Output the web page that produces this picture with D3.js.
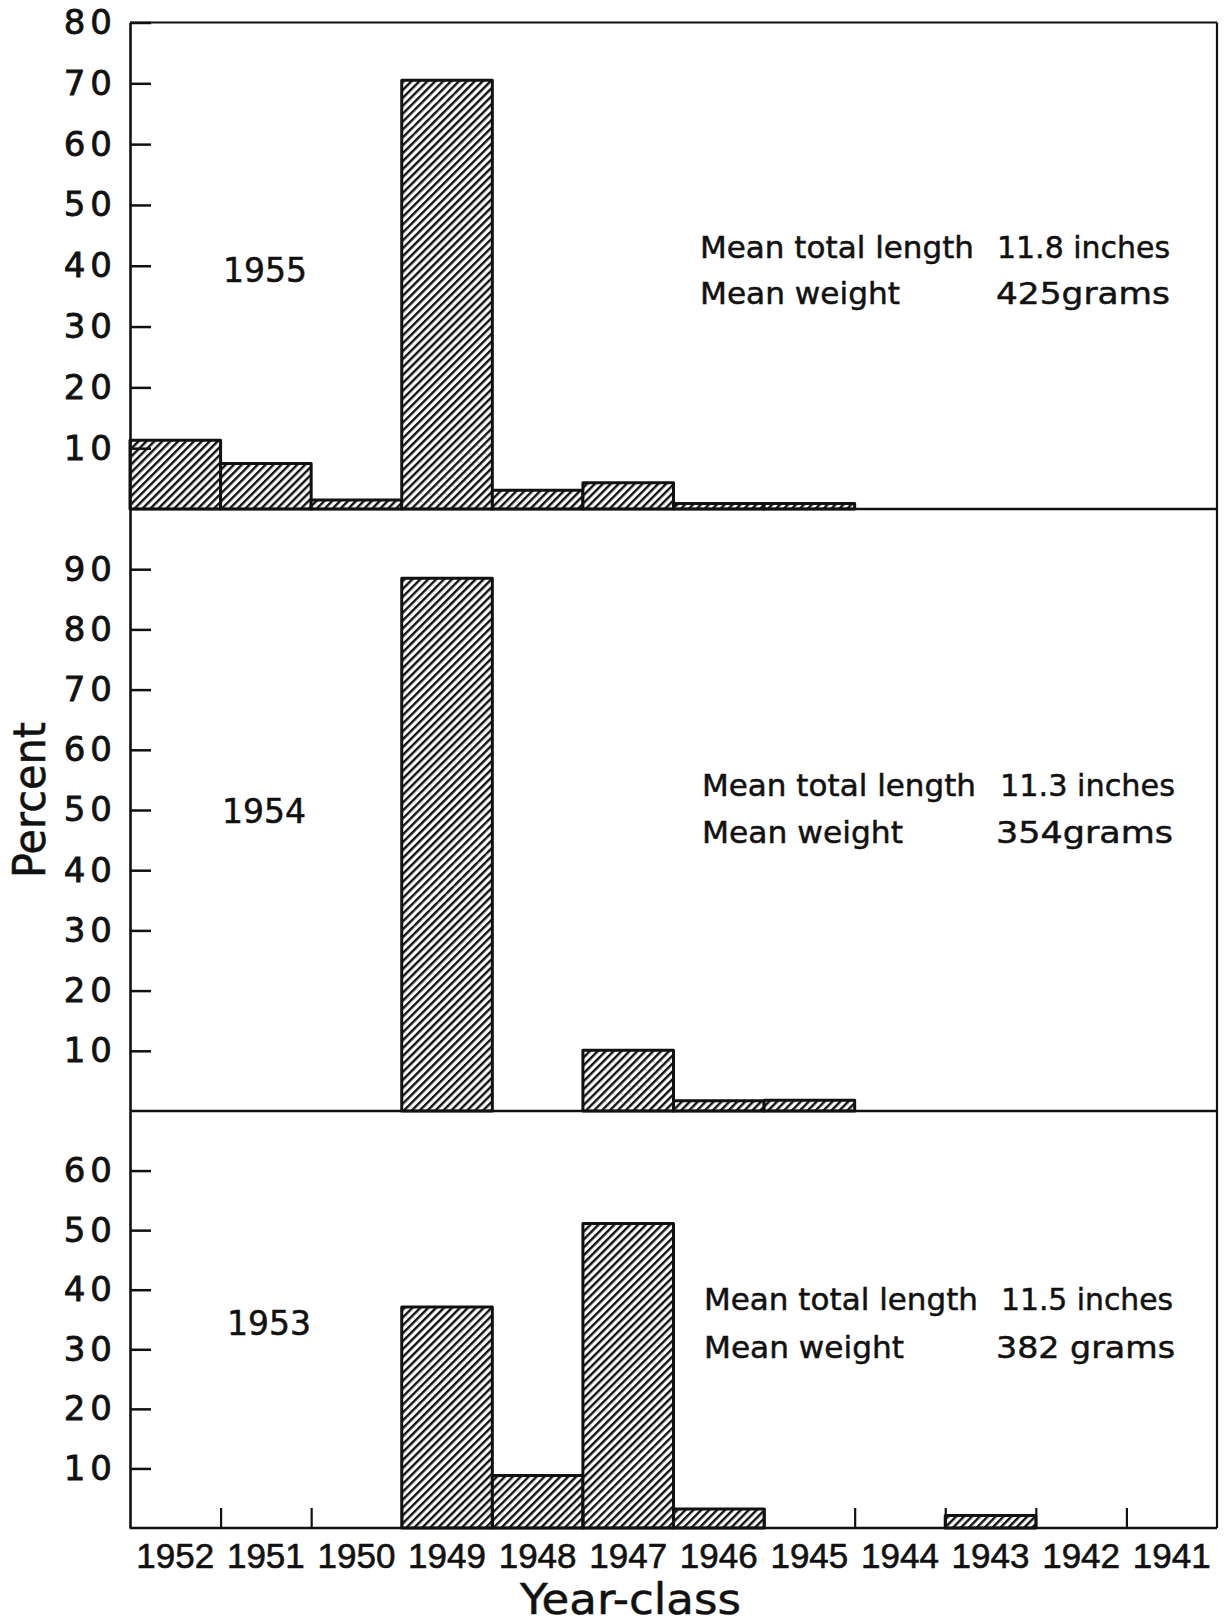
<!DOCTYPE html>
<html><head><meta charset="utf-8">
<script src="https://cdn.jsdelivr.net/npm/d3@7"></script>
<style>
html,body{margin:0;padding:0;background:#fff;}
svg{display:block;}
</style></head>
<body>
<svg id="chart" width="1227" height="1623"></svg>
<script>
// ---------- data ----------
const yearClasses = ["1952","1951","1950","1949","1948","1947","1946","1945","1944","1943","1942","1941"];
const sampleYears = ["1955","1954","1953"];
const pct1955 = [11.3, 7.5, 1.5, 70.5, 3.1, 4.3, 0.9, 0.9, 0, 0, 0, 0];
const pct1954 = [0, 0, 0, 88.5, 0, 10.1, 1.7, 1.8, 0, 0, 0, 0];
const pct1953 = [0, 0, 0, 37.1, 8.8, 51.1, 3.2, 0, 0, 2.1, 0, 0];
const yMax = [80, 100, 70];
const yTicks1955 = [10, 20, 30, 40, 50, 60, 70, 80];
const yTicks1954 = [10, 20, 30, 40, 50, 60, 70, 80, 90];
const yTicks1953 = [10, 20, 30, 40, 50, 60];
const lengthLabel = "Mean total length";
const weightLabel = "Mean weight";
const meanLength = ["11.8 inches", "11.3 inches", "11.5 inches"];
const meanWeight = ["425grams", "354grams", "382 grams"];
const xTitle = "Year-class";
const yTitle = "Percent";

// ---------- layout ----------
const L = 130, R = 1217;
const panelTop = [22.5, 509, 1111];
const panelBase = [509, 1111, 1528];
const series = [pct1955, pct1954, pct1953];
const ticks = [yTicks1955, yTicks1954, yTicks1953];
const yearLabelPos = [[223, 282], [222, 823], [227, 1335]];
const annot = [
  {x1: 700, x2: 997, x2b: 996, b1: 258, b2: 304, w1: 274, w2: 200, v1: 173, v2: 174},
  {x1: 702, x2: 1000, x2b: 996, b1: 796, b2: 843, w1: 274, w2: 201, v1: 175, v2: 177},
  {x1: 704, x2: 1001, x2b: 996, b1: 1310, b2: 1358, w1: 274, w2: 200, v1: 172, v2: 179}
];
const FONT = "'DejaVu Sans', sans-serif";
const INK = "#111";

const svg = d3.select("#chart");
const defs = svg.append("defs");
const HS = 5.6;
const pat = defs.append("pattern")
  .attr("id", "hatch").attr("patternUnits", "userSpaceOnUse")
  .attr("width", HS).attr("height", HS)
  .attr("patternTransform", "rotate(45)");
pat.append("rect").attr("width", HS).attr("height", HS).attr("fill", "#fff");
pat.append("line").attr("x1", 1.2).attr("y1", 0).attr("x2", 1.2).attr("y2", HS)
  .attr("stroke", INK).attr("stroke-width", 2.4);

const x = d3.scaleBand().domain(yearClasses).range([L, R]).paddingInner(0).paddingOuter(0);
const xEdge = d3.scaleLinear().domain([0, yearClasses.length]).range([L, R]);

const inkText = sel => sel.attr("fill", INK).attr("stroke", INK).attr("stroke-width", 0.5);

sampleYears.forEach((sy, i) => {
  const y = d3.scaleLinear().domain([0, yMax[i]]).range([panelBase[i], panelTop[i]]);
  const g = svg.append("g");
  // bars
  g.selectAll("rect.bar")
    .data(yearClasses.map((yc, j) => ({yc, v: series[i][j]})).filter(d => d.v > 0))
    .join("rect").attr("class", "bar")
    .attr("x", d => x(d.yc)).attr("width", x.bandwidth())
    .attr("y", d => y(d.v)).attr("height", d => y(0) - y(d.v))
    .attr("fill", "url(#hatch)").attr("stroke", INK).attr("stroke-width", 3)
    .attr("stroke-linejoin", "round");

  // y axis
  const ax = svg.append("g").attr("transform", `translate(${L},0)`)
    .call(d3.axisLeft(y).tickValues(ticks[i]).tickSizeInner(-21).tickSizeOuter(0).tickPadding(13).tickFormat(d3.format("d")));
  ax.select(".domain").attr("stroke", INK).attr("stroke-width", 2.6);
  ax.selectAll(".tick line").attr("stroke", INK).attr("stroke-width", 2.5);
  ax.selectAll(".tick text").attr("font-family", FONT).attr("font-size", 34)
    .attr("letter-spacing", 5).call(inkText).attr("stroke-width", 0.8);

  // baseline of panel
  svg.append("line").attr("x1", L).attr("x2", R).attr("y1", y(0)).attr("y2", y(0))
    .attr("stroke", INK).attr("stroke-width", 2.4);

  // panel year label
  svg.append("text").attr("x", yearLabelPos[i][0]).attr("y", yearLabelPos[i][1])
    .attr("font-family", FONT).attr("font-size", 33).call(inkText).text(sy);

  // annotations
  const a = annot[i];
  const addT = (tx, ty, w, s) => svg.append("text").attr("x", tx).attr("y", ty)
    .attr("font-family", FONT).attr("font-size", 31).call(inkText)
    .attr("textLength", w).attr("lengthAdjust", "spacingAndGlyphs").text(s);
  addT(a.x1, a.b1, a.w1, lengthLabel);
  addT(a.x1, a.b2, a.w2, weightLabel);
  addT(a.x2, a.b1, a.v1, meanLength[i]);
  addT(a.x2b, a.b2, a.v2, meanWeight[i]);
});

// frame: top and right borders
svg.append("line").attr("x1", L).attr("x2", R).attr("y1", panelTop[0]).attr("y2", panelTop[0])
  .attr("stroke", INK).attr("stroke-width", 2.2);
svg.append("line").attr("x1", R).attr("x2", R).attr("y1", panelTop[0]).attr("y2", panelBase[2])
  .attr("stroke", INK).attr("stroke-width", 2.2);

// bottom boundary ticks
const tx = svg.append("g").attr("transform", `translate(0,${panelBase[2]})`)
  .call(d3.axisBottom(xEdge).tickValues(d3.range(1, yearClasses.length)).tickSizeInner(-20).tickSizeOuter(0).tickFormat(""));
tx.select(".domain").remove();
tx.selectAll(".tick line").attr("stroke", INK).attr("stroke-width", 2.2);

// x labels
const xl = svg.append("g").attr("transform", `translate(0,${panelBase[2]})`)
  .call(d3.axisBottom(x).tickSize(0).tickPadding(15));
xl.select(".domain").remove();
xl.selectAll(".tick text").attr("font-family", "'Liberation Sans', Arial, sans-serif")
  .attr("font-size", 35).call(inkText).attr("stroke-width", 0.6);

// titles
svg.append("text").attr("x", 630.5).attr("y", 1614).attr("text-anchor", "middle")
  .attr("font-family", FONT).attr("font-size", 43).call(inkText)
  .attr("textLength", 221).attr("lengthAdjust", "spacingAndGlyphs").text(xTitle);
svg.append("text").attr("transform", "translate(45,800) rotate(-90)").attr("text-anchor", "middle")
  .attr("font-family", FONT).attr("font-size", 44).call(inkText)
  .attr("textLength", 156).attr("lengthAdjust", "spacingAndGlyphs").text(yTitle);
</script>
</body></html>
